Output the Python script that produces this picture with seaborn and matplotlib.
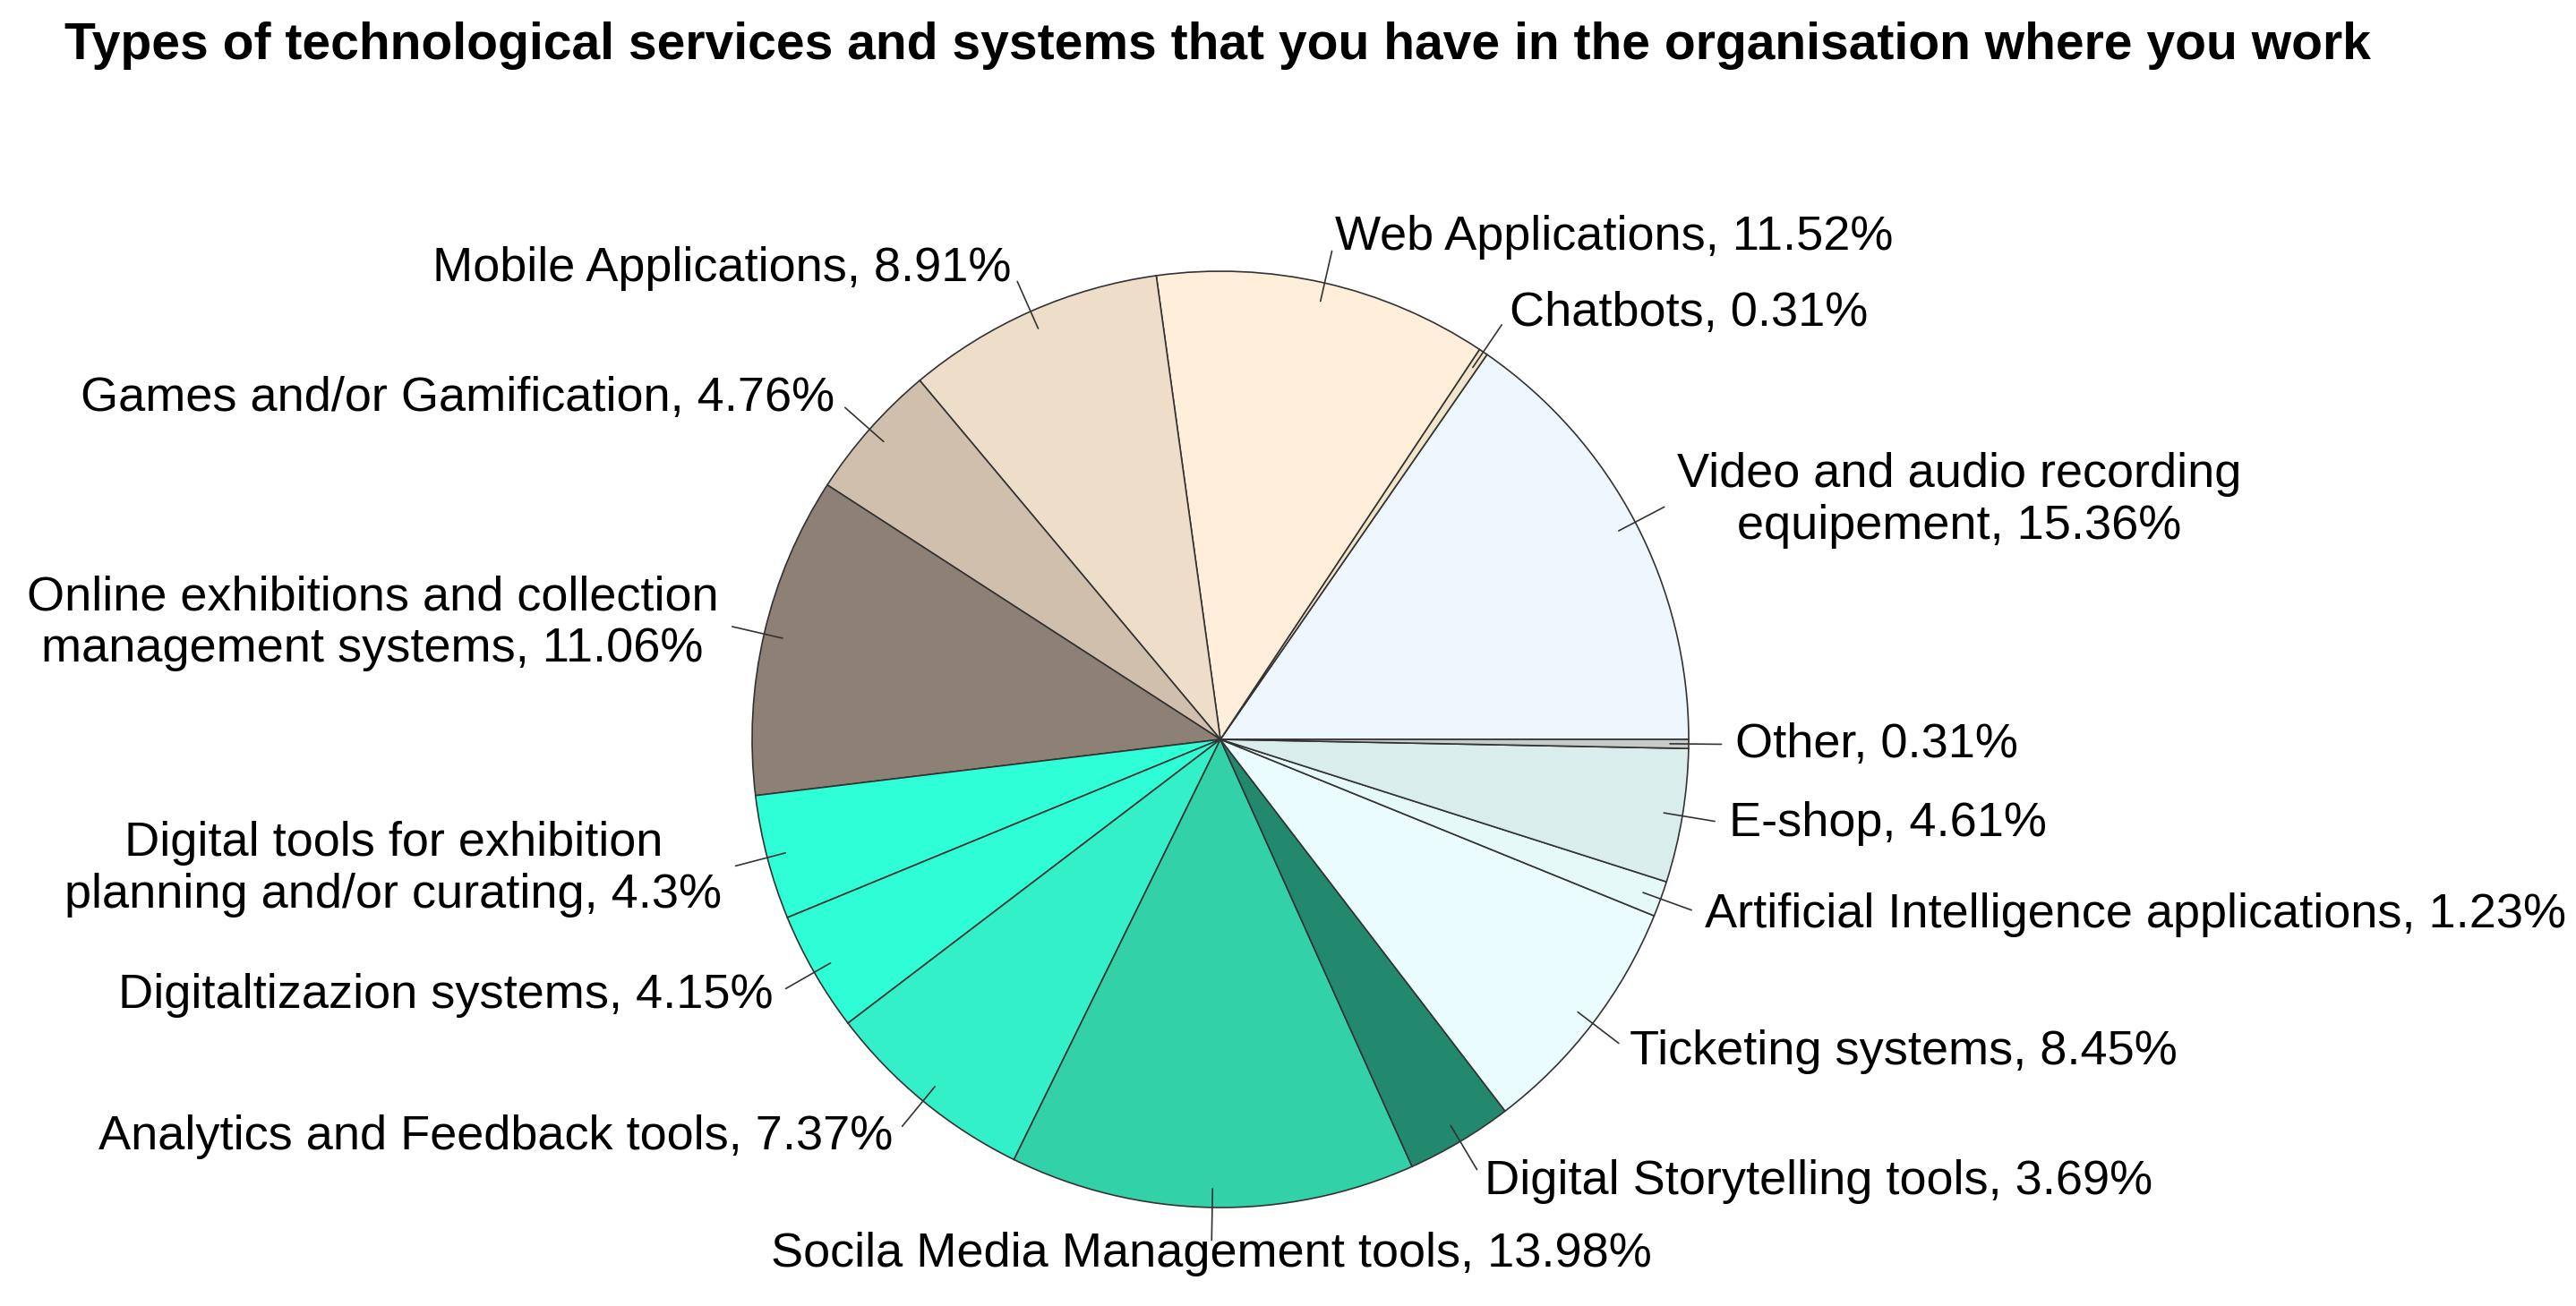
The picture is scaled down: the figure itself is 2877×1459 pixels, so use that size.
import numpy as np
import matplotlib
matplotlib.use("Agg")
import matplotlib.pyplot as plt
import seaborn as sns

categories = ["Video and audio recording\nequipement", "Chatbots", "Web Applications",
              "Mobile Applications", "Games and/or Gamification",
              "Online exhibitions and collection\nmanagement systems",
              "Digital tools for exhibition\nplanning and/or curating",
              "Digitaltizazion systems", "Analytics and Feedback tools",
              "Socila Media Management tools", "Digital Storytelling tools",
              "Ticketing systems", "Artificial Intelligence applications",
              "E-shop", "Other"]
values = [15.36, 0.31, 11.52, 8.91, 4.76, 11.06, 4.3, 4.15, 7.37, 13.98, 3.69, 8.45, 1.23, 4.61, 0.31]
colors = ["#EEF7FD", "#F3E4CC", "#FFEEDA", "#EEDDC8", "#D1BFAE", "#8C8174",
          "#2EFFD6", "#2EFDD5", "#33F0C8", "#33D1A8", "#22896E", "#EAFCFD",
          "#E5FAF8", "#D9EEEC", "#C8CCC8"]

sns.set_theme(style="white", font="Liberation Sans")
fig = plt.figure(figsize=(28.77, 14.59), dpi=100)
W, H = 2877, 1459
R = 523
cx, cy = 1363 / W, 1 - 826 / H
ax = fig.add_axes([cx - R / W, cy - R / H, 2 * R / W, 2 * R / H])
wedges, _ = ax.pie(values, colors=colors, startangle=0, counterclock=True,
                   wedgeprops=dict(edgecolor="#333333", linewidth=1.2))
ax.set_xlim(-1, 1); ax.set_ylim(-1, 1)
for w, cat, v in zip(wedges, categories, values):
    ang = np.deg2rad((w.theta1 + w.theta2) / 2)
    c, s = np.cos(ang), np.sin(ang)
    ax.plot([0.96 * c, 1.07 * c], [0.96 * s, 1.07 * s], color="#333333", lw=1.2, clip_on=False)
    ha = "left" if c > 0.05 else ("right" if c < -0.05 else "center")
    txt = f"{cat}, {v:g}%"
    ax.text(1.1 * c, 1.1 * s, txt, ha=ha, va="center", fontsize=39, color="black",
            multialignment="center", clip_on=False)
fig.text(0.025, 0.965, "Types of technological services and systems that you have in the organisation where you work",
         fontsize=41, fontweight="bold", ha="left", va="center", color="black")
fig.savefig("out.png", dpi=100)
